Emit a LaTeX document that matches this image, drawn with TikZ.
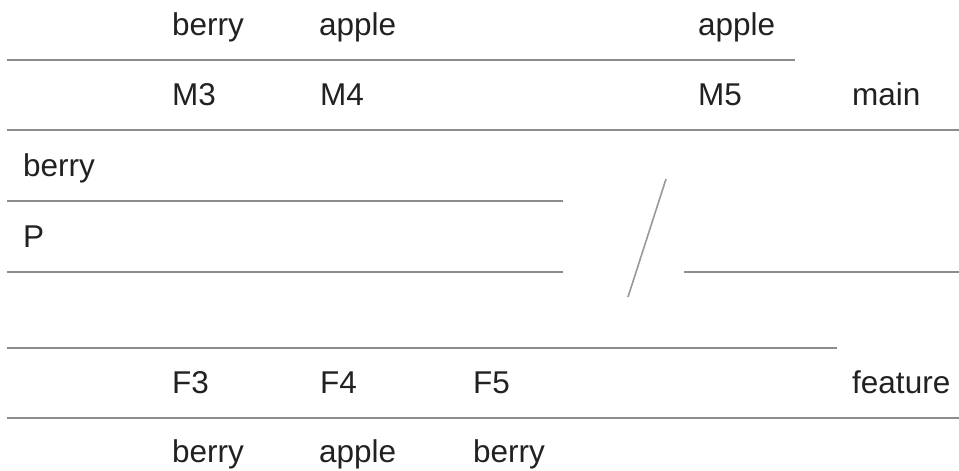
\documentclass[tikz,border=0pt]{standalone}
\usepackage{fontspec}
\setmainfont{Liberation Sans}
\begin{document}
\begin{tikzpicture}[x=1pt,y=-1pt,
  lbl/.style={anchor=base west,inner sep=0pt,text=black!87,font=\fontsize{31.5}{36}\selectfont},
  rule/.style={draw=black!45,line width=2pt},
  slash/.style={draw=black!40,line width=1.6pt}]
\useasboundingbox[fill=white] (0,0) rectangle (959,471);
% rules
\draw[rule] (7,60) -- (795,60);
\draw[rule] (7,130) -- (959,130);
\draw[rule] (7,201) -- (563,201);
\draw[rule] (7,272) -- (563,272);
\draw[rule] (684,272) -- (959,272);
\draw[rule] (7,348) -- (837,348);
\draw[rule] (7,418) -- (959,418);
\draw[slash] (666,179) -- (628,297);
% texts
\node[lbl] (t1) at (172,35) {berry};
\node[lbl] (t2) at (319,35) {apple};
\node[lbl] (t3) at (698,35) {apple};
\node[lbl] (m3) at (172,105) {M3};
\node[lbl] (m4) at (320,105) {M4};
\node[lbl] (m5) at (698,105) {M5};
\node[lbl] (mn) at (852,105) {main};
\node[lbl] (lb) at (23,176) {berry};
\node[lbl] (lp) at (23,247) {P};
\node[lbl] (f3) at (172,393) {F3};
\node[lbl] (f4) at (320,393) {F4};
\node[lbl] (f5) at (473,393) {F5};
\node[lbl] (ft) at (852,393) {feature};
\node[lbl] (b1) at (172,462) {berry};
\node[lbl] (b2) at (319,462) {apple};
\node[lbl] (b3) at (473,462) {berry};
\end{tikzpicture}
\end{document}
